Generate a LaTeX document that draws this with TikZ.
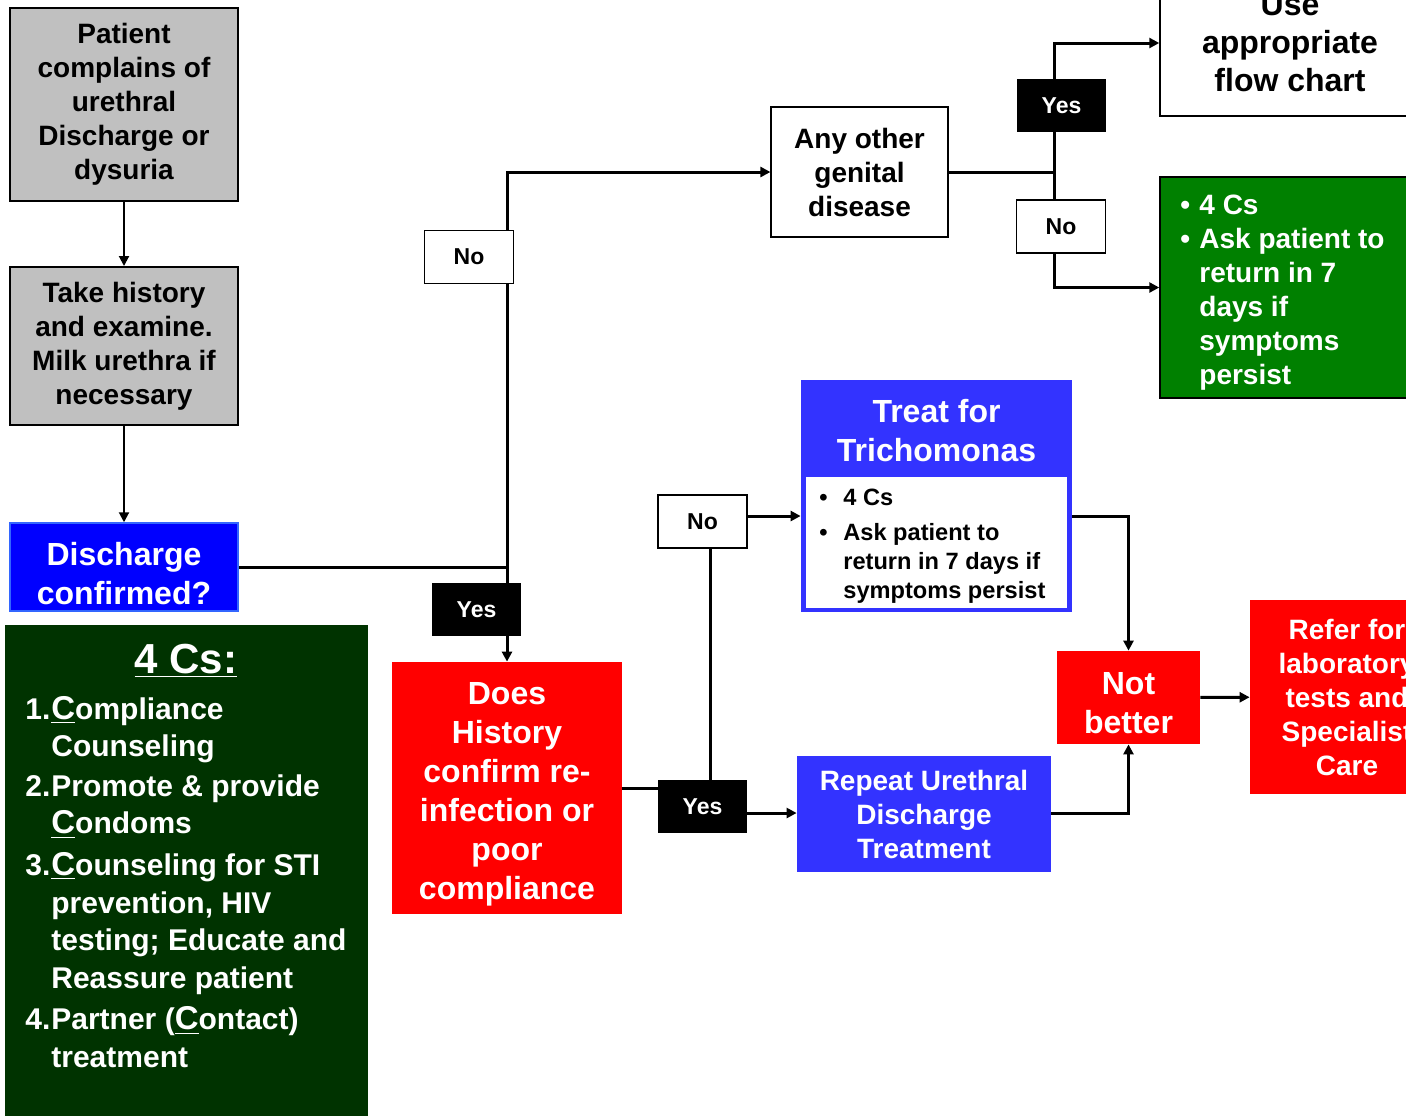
\documentclass[tikz,border=0pt]{standalone}
\usepackage{fontspec}
\setmainfont{Liberation Sans}
\usetikzlibrary{arrows.meta, positioning}

\definecolor{cgray}{HTML}{C0C0C0}
\definecolor{cblue}{HTML}{0000FF}
\definecolor{cblueline}{HTML}{3366FF}
\definecolor{cviolet}{HTML}{3333FF}
\definecolor{cred}{HTML}{FF0000}
\definecolor{cdkgreen}{HTML}{003300}
\definecolor{cgreen}{HTML}{008000}

\newcommand{\ulc}{{\fontsize{16.5}{19}\selectfont\underline{C}}}

\begin{document}
\begin{tikzpicture}[x=0.5pt,y=-0.5pt,>={Triangle[length=5pt,width=5pt]},
	box/.style={rectangle, inner sep=0pt, align=center, font=\bfseries\fontsize{14}{17}\selectfont},
	graybox/.style={box, draw=black, line width=1pt, fill=cgray, minimum width=114pt},
	bigtext/.style={align=center, inner sep=0pt, font=\bfseries\fontsize{16}{19.5}\selectfont, text=white},
	lbl/.style={rectangle, inner sep=0pt, minimum width=44.5pt, minimum height=26.5pt, font=\bfseries\fontsize{11.5}{14}\selectfont},
	lblw/.style={lbl, draw=black, line width=0.6pt, fill=white},
	lblb/.style={lbl, fill=black, text=white},
	flow/.style={line width=1.5pt},
	thinflow/.style={line width=1pt}]

	\useasboundingbox (0,0) rectangle (1406,1116);
	\fill [white] (0,0) rectangle (1406,1116);
	\clip (0,0) rectangle (1406,1116);

	% left column
	\node (patient) [graybox, minimum height=96.5pt] at (124,104.5) {Patient\\complains of\\urethral\\Discharge or\\dysuria};
	\node (history) [graybox, minimum height=79pt] at (124,346) {Take history\\and examine.\\Milk urethra if\\necessary};
	\node (confirm) [rectangle, fill=cblue, draw=cblueline, line width=0.75pt, minimum width=114pt, minimum height=44pt] at (124,567) {};
	\node (confirmtxt) [bigtext] at (124,574) {Discharge\\confirmed?};

	% 4 Cs panel
	\node (cbox) [rectangle, fill=cdkgreen, minimum width=181.5pt, minimum height=245.5pt] at (186.5,870.5) {};
	\node (cstitle) [text=white, font=\bfseries\fontsize{21}{24}\selectfont] at (186,661) {\underline{4 Cs:}};
	\node (cslist) [anchor=base west, inner sep=0pt, text=white, font=\bfseries\fontsize{15}{18.8}\selectfont] at (25,719) {%
		\begin{tabular}[t]{@{}p{13pt}@{}l@{}}
			1.&\ulc ompliance\\
			&Counseling\\[1pt]
			2.&Promote \& provide\\
			&\ulc ondoms\\[2pt]
			3.&\ulc ounseling for STI\\
			&prevention, HIV\\
			&testing; Educate and\\
			&Reassure patient\\[2pt]
			4.&Partner (\ulc ontact)\\
			&treatment
		\end{tabular}};

	% middle
	\node (recheck) [rectangle, fill=cred, minimum width=115pt, minimum height=126pt] at (507,788) {};
	\node (rechecktxt) [bigtext] at (507,794) {Does\\History\\confirm re-\\infection or\\poor\\compliance};
	\node (other) [box, draw=black, line width=0.6pt, fill=white, minimum width=88.5pt, minimum height=65pt] at (859.5,172) {Any other\\genital\\disease};

	% right column
	\node (useflow) [box, font=\bfseries\fontsize{16}{19}\selectfont, draw=black, line width=0.75pt, fill=white, minimum width=130pt, minimum height=73pt] at (1290,43) {Use\\appropriate\\flow chart};
	\node (advise) [rectangle, draw=black, line width=0.75pt, fill=cgreen, minimum width=130pt, minimum height=110.5pt] at (1290,287.5) {};
	\node (advtxt) [anchor=base west, inner sep=0pt, text=white, font=\bfseries\fontsize{14}{17}\selectfont] at (1180,214) {%
		\begin{tabular}[t]{@{}p{9.5pt}@{}l@{}}
			\textbullet&4 Cs\\
			\textbullet&Ask patient to\\
			&return in 7\\
			&days if\\
			&symptoms\\
			&persist
		\end{tabular}};

	\node (trich) [rectangle, fill=cviolet, minimum width=135.5pt, minimum height=116pt] at (936.5,496) {};
	\node (trichin) [rectangle, fill=white, minimum width=130.5pt, minimum height=65.5pt] at (936.5,542.5) {};
	\node (trichtl) [bigtext] at (936.5,431) {Treat for\\Trichomonas};
	\node (trichtxt) [anchor=base west, inner sep=0pt, font=\bfseries\fontsize{11.8}{14.5}\selectfont] at (819,505) {%
		\begin{tabular}[t]{@{}p{12pt}@{}l@{}}
			\textbullet&4 Cs\\[3pt]
			\textbullet&Ask patient to\\
			&return in 7 days if\\
			&symptoms persist
		\end{tabular}};

	\node (repeat) [box, fill=cviolet, text=white, minimum width=127pt, minimum height=58pt] at (924,814) {Repeat Urethral\\Discharge\\Treatment};
	\node (notbetter) [rectangle, fill=cred, minimum width=71.5pt, minimum height=46.5pt] at (1128.5,697.5) {};
	\node (notbettertxt) [bigtext] at (1128.5,703) {Not\\better};
	\node (refer) [box, fill=cred, text=white, minimum width=97pt, minimum height=97pt] at (1347,697) {Refer for\\laboratory\\tests and\\Specialist\\Care};

	% connectors
	\path [->, thinflow]
	(patient) edge (history)
	(history) edge (confirm);

	\coordinate (j1) at (507,567);
	\coordinate (j2) at (1054,172);
	\coordinate (j3) at (710,788);

	\draw [flow] (confirm.east) -- (j1);
	\draw [flow, ->] (j1) |- (other.west);
	\draw [flow, ->] (j1) -- (recheck.north);
	\draw [flow] (other.east) -- (j2);
	\draw [flow, ->] (j2) |- (useflow.west);
	\draw [flow, ->] (j2) |- (advise.west);
	\draw [flow] (recheck.east) -- (j3) -- (j3 |- 0,521.5);
	\draw [flow, ->] (702.5,516) -- (trich.west |- 0,516);
	\draw [flow, ->] (702.5,813) -- (repeat.west |- 0,813);
	\draw [flow, ->] (trich.east |- 0,516) -| (notbetter.north);
	\draw [flow, ->] (repeat.east |- 0,813) -| (notbetter.south);
	\draw [flow, ->] (notbetter) -- (refer);

	% yes / no labels
	\node (noA) [lblw] at (469,257) {No};
	\node (yesA) [lblb] at (476.5,609.5) {Yes};
	\node (yesB) [lblb] at (1061.5,105.5) {Yes};
	\node (noB) [lblw] at (1061,226.5) {No};
	\node (noC) [lblw] at (702.5,521.5) {No};
	\node (yesC) [lblb] at (702.5,806.5) {Yes};
\end{tikzpicture}
\end{document}
